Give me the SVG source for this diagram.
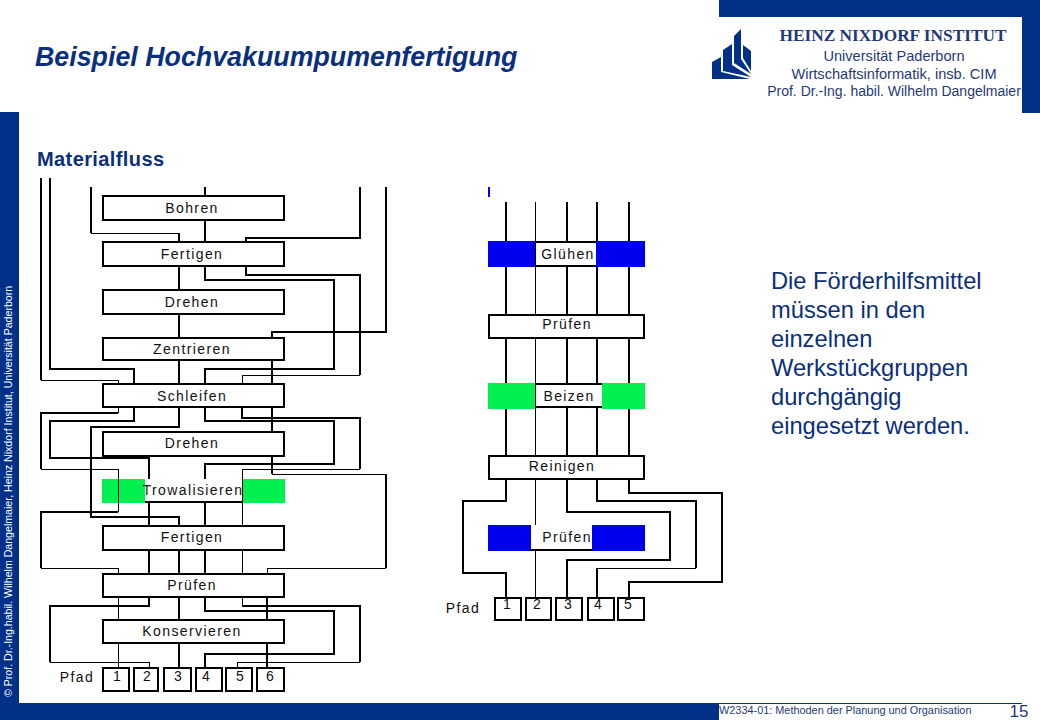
<svg xmlns="http://www.w3.org/2000/svg" width="1040" height="720" viewBox="0 0 1040 720">
<style>
.c{fill:none;stroke:#000;stroke-width:2;stroke-linejoin:miter;shape-rendering:crispEdges}
.t{fill:none;stroke:#000;stroke-width:1;shape-rendering:crispEdges}
.b{fill:#fff;stroke:#000;stroke-width:2;shape-rendering:crispEdges}
.f{font-family:"Liberation Sans",Arial,sans-serif}
.l{font-family:"Liberation Sans",Arial,sans-serif;font-size:14px;letter-spacing:1.4px;fill:#111;text-anchor:middle}
.n{font-family:"Liberation Sans",Arial,sans-serif;font-size:14px;fill:#111;text-anchor:middle}
.d{font-family:"Liberation Sans",Arial,sans-serif;font-size:23.7px;fill:#0a2f7d}
.h{font-family:"Liberation Sans",Arial,sans-serif;fill:#1f3a78;text-anchor:middle}
</style>
<rect width="1040" height="720" fill="#fff"/>
<g id="frame">
<rect x="719" y="0" width="321" height="17" fill="#003087"/>
<rect x="1022" y="0" width="18" height="113" fill="#003087"/>
<rect x="0" y="112" width="19" height="591" fill="#003087"/>
<rect x="0" y="703" width="719" height="17" fill="#003087"/>
<line x1="719" y1="703.5" x2="1022" y2="703.5" stroke="#003087" stroke-width="1"/>
</g>
<g id="logo" fill="#003087">
<polygon points="712,62 721,57 721,72 750,79 712,79"/>
<polygon points="723,50 732,44 732,65 751,77 723,71"/>
<polygon points="734,36 741,29 741,59 751,74 734,63"/>
<polygon points="743,45 751,51 751,71 743,58"/>
</g>
<g id="header-text">
<text class="f" x="35" y="66" font-size="26.8" font-weight="bold" font-style="italic" fill="#0a2f7d">Beispiel Hochvakuumpumenfertigung</text>
<text class="f" x="37" y="166" font-size="20" font-weight="bold" letter-spacing="0.4" fill="#0a2f7d">Materialfluss</text>
<text x="893" y="41" text-anchor="middle" font-family="Liberation Serif,serif" font-weight="bold" font-size="17.3" fill="#1f3a78">HEINZ NIXDORF INSTITUT</text>
<text class="h" x="894" y="61" font-size="14.6">Universität Paderborn</text>
<text class="h" x="894" y="79" font-size="14.6">Wirtschaftsinformatik, insb. CIM</text>
<text class="h" x="894" y="96" font-size="14">Prof. Dr.-Ing. habil. Wilhelm Dangelmaier</text>
<text class="f" transform="translate(12,697) rotate(-90)" font-size="10.6" fill="#fff">© Prof. Dr.-Ing.habil. Wilhelm Dangelmaier, Heinz Nixdorf Institut, Universität Paderborn</text>
<text class="f" x="719" y="714" font-size="10.9" fill="#1f3a78">W2334-01: Methoden der Planung und Organisation</text>
<text class="f" x="1019" y="717" font-size="17" fill="#1f3a78" text-anchor="middle">15</text>
</g>
<g id="text-note" class="d">
<text x="771" y="289">Die Förderhilfsmittel</text>
<text x="771" y="318">müssen in den</text>
<text x="771" y="347">einzelnen</text>
<text x="771" y="376">Werkstückgruppen</text>
<text x="771" y="405">durchgängig</text>
<text x="771" y="434">eingesetzt werden.</text>
</g>
<g id="fills">
<rect x="102" y="479" width="43" height="24" fill="#00f050"/>
<rect x="242" y="479" width="43" height="24" fill="#00f050"/>
<rect x="488" y="241" width="48" height="26" fill="#0000f0"/>
<rect x="596" y="241" width="49" height="26" fill="#0000f0"/>
<rect x="488" y="383" width="48" height="26" fill="#00f050"/>
<rect x="602" y="383" width="43" height="26" fill="#00f050"/>
<rect x="488" y="525" width="43" height="26" fill="#0000f0"/>
<rect x="592" y="525" width="53" height="26" fill="#0000f0"/>
<rect x="488" y="187" width="2" height="10" fill="#0000d0"/>
</g>
<g id="connectors">
<path class="c" d="M91 187V233"/>
<path class="t" d="M91 233H179"/>
<path class="c" d="M179 233V242M205 187V196M205 220V242M179 266V290M179 314V338M179 360V383"/>
<path class="c" d="M179 407V427H91V517H179V526M179 550V573M179 597V620M179 643V667"/>
<path class="c" d="M205 266V280H334V369H205V383M205 407V421H334V464H205V479M205 502V526M205 550V573M205 597V611H334V654H205V667"/>
<path class="c" d="M360 187V238H246V242M246 266V275H360V375"/>
<path class="t" d="M360 375H242V383"/>
<path class="c" d="M242 407V418H360V469"/>
<path class="t" d="M360 469H242V573M242 597V606"/>
<path class="c" d="M242 606H360V662"/>
<path class="t" d="M360 662H237V667"/>
<path class="c" d="M386 187V332H272V338M272 360V383M272 407V432M272 456V474"/>
<path class="t" d="M272 474H386"/>
<path class="c" d="M386 474V568"/>
<path class="t" d="M386 568H267V573"/>
<path class="c" d="M267 597V620M267 643V667"/>
<path class="c" d="M50 178V369H134V383M134 407V421H50V458H149V479M149 502V526M149 550V573M149 597V606H50V662"/>
<path class="t" d="M50 662H149V667"/>
<path class="c" d="M41 178V380"/>
<path class="t" d="M41 380H118V383"/>
<path class="t" d="M118 407V413"/>
<path class="c" d="M118 413H41V469"/>
<path class="t" d="M41 469H118V512"/>
<path class="c" d="M118 512H41V568"/>
<path class="t" d="M41 568H118V573M118 597V620M118 643V667"/>
<path class="c" d="M506 202V241M506 267V314M506 338V383M506 409V456M567 202V242M567 265V314M567 338V384M567 407V456M597 202V241M597 267V314M597 338V384M597 407V456M629 202V241M629 267V314M629 338V383M629 409V456"/>
<path class="t" d="M535 202V456M535 479V525M535 551V597"/>
<path class="c" d="M506 479V501H463V573H506V597"/>
<path class="c" d="M567 479V512H670V560H567V597"/>
<path class="c" d="M597 479V501H696V568"/>
<path class="t" d="M696 568H597"/>
<path class="c" d="M597 568V597"/>
<path class="c" d="M629 479V493H722V582H629V597"/>
</g>
<g id="n-bohren"><rect class="b" x="103" y="196" width="181" height="24"/><text class="l" x="192" y="213">Bohren</text></g>
<g id="n-fertigen1"><rect class="b" x="103" y="242" width="181" height="24"/><text class="l" x="192" y="259">Fertigen</text></g>
<g id="n-drehen1"><rect class="b" x="103" y="290" width="181" height="24"/><text class="l" x="192" y="307">Drehen</text></g>
<g id="n-zentrieren"><rect class="b" x="103" y="338" width="181" height="22"/><text class="l" x="192" y="354">Zentrieren</text></g>
<g id="n-schleifen"><rect class="b" x="103" y="384" width="181" height="23"/><text class="l" x="192" y="401">Schleifen</text></g>
<g id="n-drehen2"><rect class="b" x="103" y="432" width="181" height="24"/><text class="l" x="192" y="448">Drehen</text></g>
<g id="n-trowalisieren"><rect x="145" y="479" width="97" height="23" fill="#fff"/><line x1="145" y1="502" x2="242" y2="502" stroke="#000" stroke-width="2" shape-rendering="crispEdges"/><path class="t" d="M118 469V512M242 469V526"/><text class="l" x="193" y="495" letter-spacing="1.1">Trowalisieren</text></g>
<g id="n-fertigen2"><rect class="b" x="103" y="526" width="181" height="24"/><text class="l" x="192" y="542">Fertigen</text></g>
<g id="n-pruefen1"><rect class="b" x="103" y="574" width="181" height="23"/><text class="l" x="192" y="590">Prüfen</text></g>
<g id="n-konservieren"><rect class="b" x="103" y="620" width="181" height="23"/><text class="l" x="192" y="636">Konservieren</text></g>
<g id="pfad-left">
<text class="l" x="77" y="682">Pfad</text>
<g id="p1"><rect class="b" x="103" y="668" width="26" height="23" fill-opacity="0"/><text class="n" x="117" y="681">1</text></g>
<g id="p2"><rect class="b" x="134" y="668" width="24" height="23" fill-opacity="0"/><text class="n" x="147" y="681">2</text></g>
<g id="p3"><rect class="b" x="164" y="668" width="27" height="23" fill-opacity="0"/><text class="n" x="178" y="681">3</text></g>
<g id="p4"><rect class="b" x="196" y="668" width="26" height="23" fill-opacity="0"/><text class="n" x="206" y="681">4</text></g>
<g id="p5"><rect class="b" x="226" y="668" width="26" height="23" fill-opacity="0"/><text class="n" x="240" y="681">5</text></g>
<g id="p6"><rect class="b" x="257" y="668" width="27" height="23" fill-opacity="0"/><text class="n" x="270" y="681">6</text></g>
</g>
<g id="n-gluehen"><rect x="536" y="242" width="60" height="24" fill="#fff"/><path class="c" d="M536 242H596M536 266H596"/><path class="t" d="M535 241V267"/><text class="l" x="568" y="259">Glühen</text></g>
<g id="n-pruefen2"><rect class="b" x="489" y="315" width="155" height="23"/><text class="l" x="567" y="329">Prüfen</text></g>
<g id="n-beizen"><rect x="536" y="384" width="66" height="23" fill="#fff"/><path class="c" d="M536 384H602M536 407H602"/><text class="l" x="569" y="401">Beizen</text></g>
<g id="n-reinigen"><rect class="b" x="489" y="456" width="155" height="23"/><text class="l" x="562" y="471">Reinigen</text></g>
<g id="n-pruefen3"><rect x="531" y="525" width="61" height="25" fill="#fff"/><path class="c" d="M531 550H592"/><path class="t" d="M535 551V597"/><text class="l" x="567" y="542">Prüfen</text></g>
<g id="pfad-right">
<text class="l" x="463" y="613">Pfad</text>
<g id="q1"><rect class="b" x="495" y="598" width="26" height="22" fill-opacity="0"/><text class="n" x="507" y="609">1</text></g>
<g id="q2"><rect class="b" x="526" y="598" width="25" height="22" fill-opacity="0"/><text class="n" x="537" y="609">2</text></g>
<g id="q3"><rect class="b" x="556" y="598" width="26" height="22" fill-opacity="0"/><text class="n" x="568" y="609">3</text></g>
<g id="q4"><rect class="b" x="588" y="598" width="26" height="22" fill-opacity="0"/><text class="n" x="598" y="609">4</text></g>
<g id="q5"><rect class="b" x="618" y="598" width="26" height="22" fill-opacity="0"/><text class="n" x="628" y="609">5</text></g>
</g>
</svg>
